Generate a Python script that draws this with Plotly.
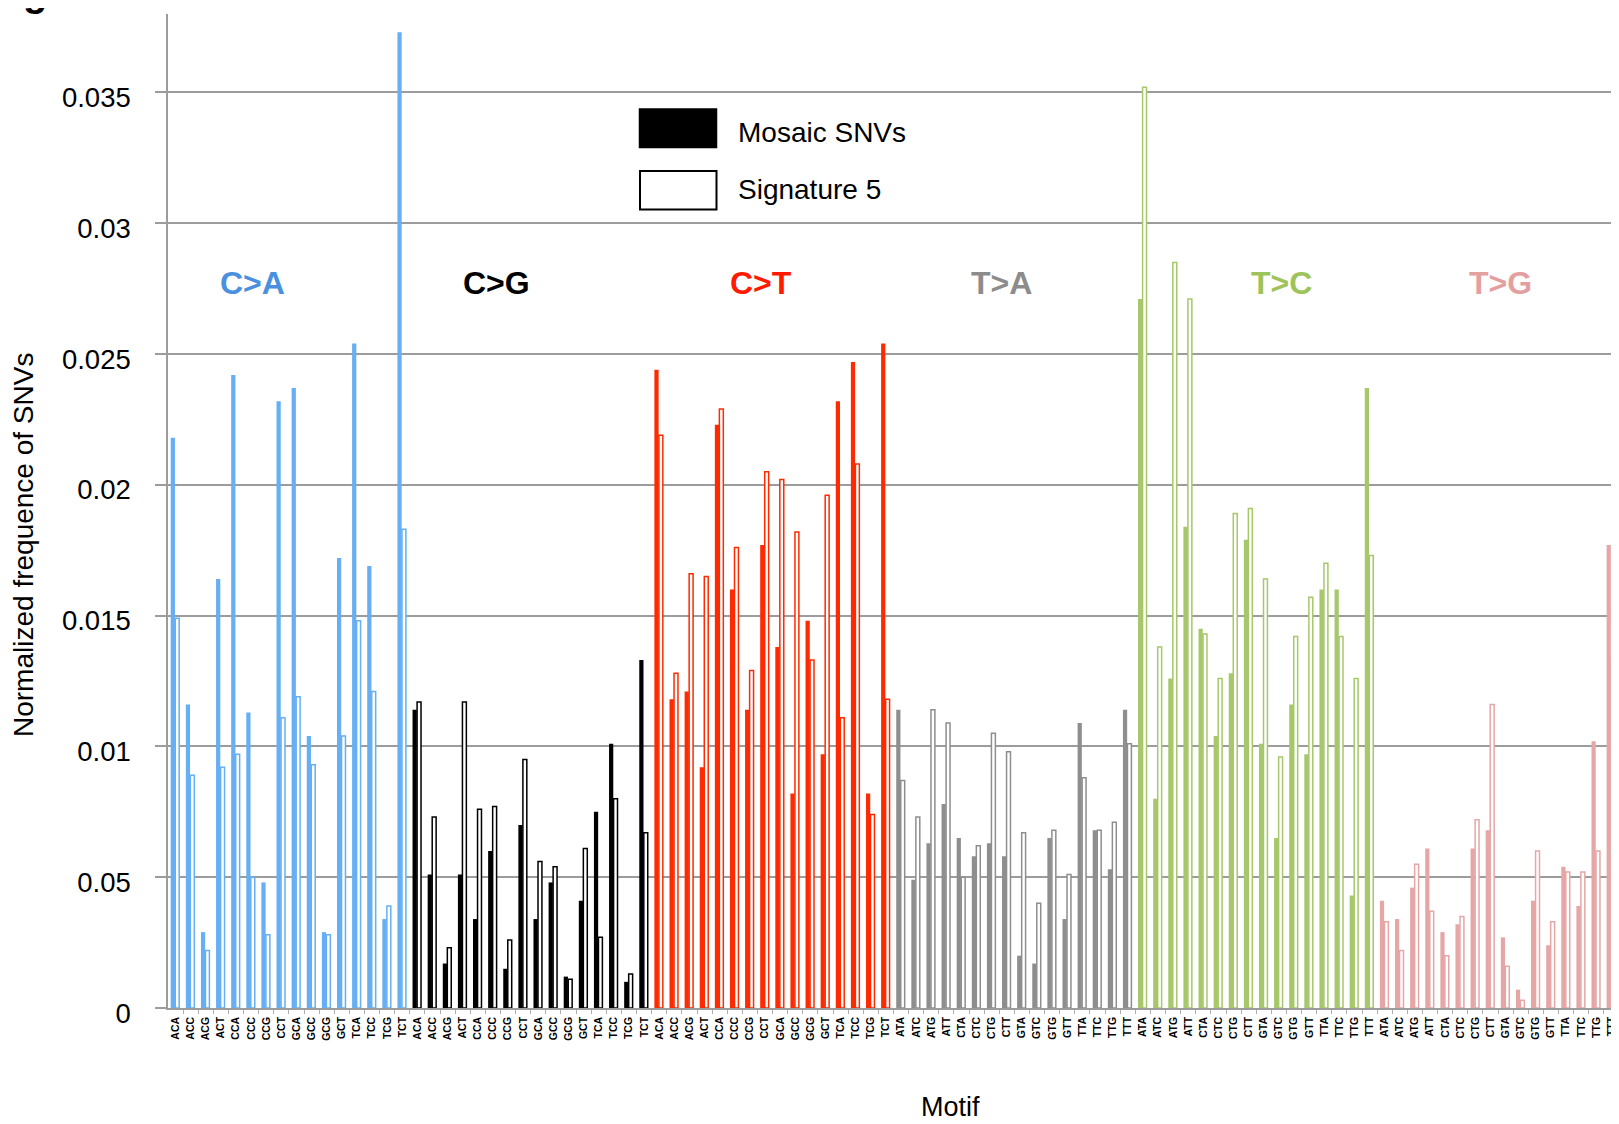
import plotly.graph_objects as go

# ---------------- data ----------------
groups = ["C>A", "C>G", "C>T", "T>A", "T>C", "T>G"]
ctx_C = ["ACA", "ACC", "ACG", "ACT", "CCA", "CCC", "CCG", "CCT",
         "GCA", "GCC", "GCG", "GCT", "TCA", "TCC", "TCG", "TCT"]
ctx_T = ["ATA", "ATC", "ATG", "ATT", "CTA", "CTC", "CTG", "CTT",
         "GTA", "GTC", "GTG", "GTT", "TTA", "TTC", "TTG", "TTT"]

mosaic_CA = [0.0218, 0.0116, 0.0029, 0.0164, 0.0242, 0.0113, 0.0048, 0.0232,
             0.0237, 0.0104, 0.0029, 0.0172, 0.0254, 0.0169, 0.0034, 0.0373]
sig5_CA = [0.0149, 0.0089, 0.0022, 0.0092, 0.0097, 0.0050, 0.0028, 0.0111,
           0.0119, 0.0093, 0.0028, 0.0104, 0.0148, 0.0121, 0.0039, 0.0183]

mosaic_CG = [0.0114, 0.0051, 0.0017, 0.0051, 0.0034, 0.0060, 0.0015, 0.0070,
             0.0034, 0.0048, 0.0012, 0.0041, 0.0075, 0.0101, 0.0010, 0.0133]
sig5_CG = [0.0117, 0.0073, 0.0023, 0.0117, 0.0076, 0.0077, 0.0026, 0.0095,
           0.0056, 0.0054, 0.0011, 0.0061, 0.0027, 0.0080, 0.0013, 0.0067]

mosaic_CT = [0.0244, 0.0118, 0.0121, 0.0092, 0.0223, 0.0160, 0.0114, 0.0177,
             0.0138, 0.0082, 0.0148, 0.0097, 0.0232, 0.0247, 0.0082, 0.0254]
sig5_CT = [0.0219, 0.0128, 0.0166, 0.0165, 0.0229, 0.0176, 0.0129, 0.0205,
           0.0202, 0.0182, 0.0133, 0.0196, 0.0111, 0.0208, 0.0074, 0.0118]

mosaic_TA = [0.0114, 0.0049, 0.0063, 0.0078, 0.0065, 0.0058, 0.0063, 0.0058,
             0.0020, 0.0017, 0.0065, 0.0034, 0.0109, 0.0068, 0.0053, 0.0114]
sig5_TA = [0.0087, 0.0073, 0.0114, 0.0109, 0.0050, 0.0062, 0.0105, 0.0098,
           0.0067, 0.0040, 0.0068, 0.0051, 0.0088, 0.0068, 0.0071, 0.0101]

mosaic_TC = [0.0271, 0.0080, 0.0126, 0.0184, 0.0145, 0.0104, 0.0128, 0.0179,
             0.0101, 0.0065, 0.0116, 0.0097, 0.0160, 0.0160, 0.0043, 0.0237]
sig5_TC = [0.0352, 0.0138, 0.0285, 0.0271, 0.0143, 0.0126, 0.0189, 0.0191,
           0.0164, 0.0096, 0.0142, 0.0157, 0.0170, 0.0142, 0.0126, 0.0173]

mosaic_TG = [0.0041, 0.0034, 0.0046, 0.0061, 0.0029, 0.0032, 0.0061, 0.0068,
             0.0027, 0.0007, 0.0041, 0.0024, 0.0054, 0.0039, 0.0102, 0.0177]
sig5_TG = [0.0033, 0.0022, 0.0055, 0.0037, 0.0020, 0.0035, 0.0072, 0.0116,
           0.0016, 0.0003, 0.0060, 0.0033, 0.0052, 0.0052, 0.0060, 0.0133]

y_tickvals = [0, 0.005, 0.01, 0.015, 0.02, 0.025, 0.03, 0.035]
y_ticktext = ["0", "0.05", "0.01", "0.015", "0.02", "0.025", "0.03", "0.035"]

# ---------------- styling ----------------
bar_colors = ["#66AFF4", "#000000", "#FF2A00", "#8E8E8E", "#A6C86A", "#E6A6A6"]
label_colors = ["#4A8FE0", "#000000", "#FF1A00", "#8C8C8C", "#9DC35A", "#E3A09F"]
label_pos = [5.09, 21.24, 38.74, 54.66, 73.18, 87.65]

mosaic_sets = [mosaic_CA, mosaic_CG, mosaic_CT, mosaic_TA, mosaic_TC, mosaic_TG]
sig_sets = [sig5_CA, sig5_CG, sig5_CT, sig5_TA, sig5_TC, sig5_TG]
ctx_sets = [ctx_C, ctx_C, ctx_C, ctx_T, ctx_T, ctx_T]

motifs, mosaic_all, sig_all, colors = [], [], [], []
for g in range(len(groups)):
    motifs += ctx_sets[g]
    mosaic_all += mosaic_sets[g]
    sig_all += sig_sets[g]
    colors += [bar_colors[g]] * len(ctx_sets[g])
x = list(range(len(motifs)))

# the page body adds an 8px margin around the figure
OFF = 8
W, H = 1619 - OFF, 1124 - OFF
ML, MR, MT = 168 - OFF, 0, 14 - OFF
MB = H - (1008 - OFF)
PW, PH = W - ML - MR, H - MT - MB

def px(xp):  # page pixel -> paper
    return (xp - OFF - ML) / PW

def py(yp):
    return (H - MB - (yp - OFF)) / PH

GRID = "#9c9c9c"
FONT = "Arial, Liberation Sans, sans-serif"

fig = go.Figure()
fig.add_trace(go.Bar(
    x=x, y=mosaic_all, name="Mosaic SNVs",
    marker=dict(color=colors, line=dict(width=0)),
    width=0.28, offset=-0.32, showlegend=False,
))
fig.add_trace(go.Bar(
    x=x, y=sig_all, name="Signature 5",
    marker=dict(color="white", line=dict(color=colors, width=1.5)),
    width=0.26, offset=-0.02, showlegend=False,
))

annotations = []
for g in range(len(groups)):
    annotations.append(dict(
        x=label_pos[g], y=0.0277, xref="x", yref="y", text=groups[g].replace(">", "&gt;"),
        showarrow=False, font=dict(family=FONT, size=32, color=label_colors[g], weight="bold"),
        xanchor="center", yanchor="middle",
    ))

# legend (drawn manually)
shapes = [
    dict(type="rect", xref="paper", yref="paper", x0=px(639.5), x1=px(716.5),
         y0=py(147.5), y1=py(109), fillcolor="black", line=dict(color="black", width=1.5)),
    dict(type="rect", xref="paper", yref="paper", x0=px(640), x1=px(716.5),
         y0=py(209.5), y1=py(171), fillcolor="white", line=dict(color="black", width=2)),
]
annotations += [
    dict(x=px(736), y=py(133), xref="paper", yref="paper", text="Mosaic SNVs", showarrow=False,
         xanchor="left", yanchor="middle", font=dict(family=FONT, size=28, color="black")),
    dict(x=px(736), y=py(189), xref="paper", yref="paper", text="Signature 5", showarrow=False,
         xanchor="left", yanchor="middle", font=dict(family=FONT, size=28, color="black")),
    dict(x=px(23), y=py(545), xref="paper", yref="paper", text="Normalized frequence of SNVs",
         showarrow=False, textangle=-90, xanchor="center", yanchor="middle",
         font=dict(family=FONT, size=28, color="black")),
    dict(x=px(950), y=py(1107), xref="paper", yref="paper", text="Motif", showarrow=False,
         xanchor="center", yanchor="middle", font=dict(family=FONT, size=27, color="black")),
    dict(x=px(35), y=py(16), xref="paper", yref="paper", text="g", showarrow=False,
         xanchor="center", yanchor="bottom", font=dict(family=FONT, size=40, color="black", weight="bold")),
]

bounds = [i - 0.5 for i in range(1, len(motifs))]

fig.update_layout(
    width=W, height=H,
    margin=dict(l=ML, r=MR, t=MT, b=MB, pad=0),
    paper_bgcolor="white", plot_bgcolor="white",
    barmode="overlay",
    shapes=shapes, annotations=annotations,
    xaxis=dict(
        range=[-0.5, len(motifs) - 0.5],
        tickmode="array", tickvals=x, ticktext=motifs, tickangle=-90,
        tickfont=dict(family=FONT, size=10.5, color="black", weight="bold"),
        ticks="outside", ticklen=3, tickcolor="rgba(0,0,0,0)",
        minor=dict(tickmode="array", tickvals=bounds, ticks="outside", ticklen=4,
                   tickcolor="#b0b0b0", tickwidth=1, showgrid=False),
        showgrid=False, zeroline=False,
        showline=True, linecolor=GRID, linewidth=1.5,
    ),
    yaxis=dict(
        range=[0, 0.038],
        tickmode="array", tickvals=y_tickvals, ticktext=y_ticktext,
        tickfont=dict(family=FONT, size=27.5, color="black"),
        ticks="outside", ticklen=11, tickcolor=GRID, tickwidth=1.5,
        showgrid=True, gridcolor=GRID, gridwidth=1.5,
        showline=True, linecolor=GRID, linewidth=1.5,
        zeroline=False, ticklabelstandoff=19, ticklabelshift=5,
    ),
)

fig.write_html("out.html")
